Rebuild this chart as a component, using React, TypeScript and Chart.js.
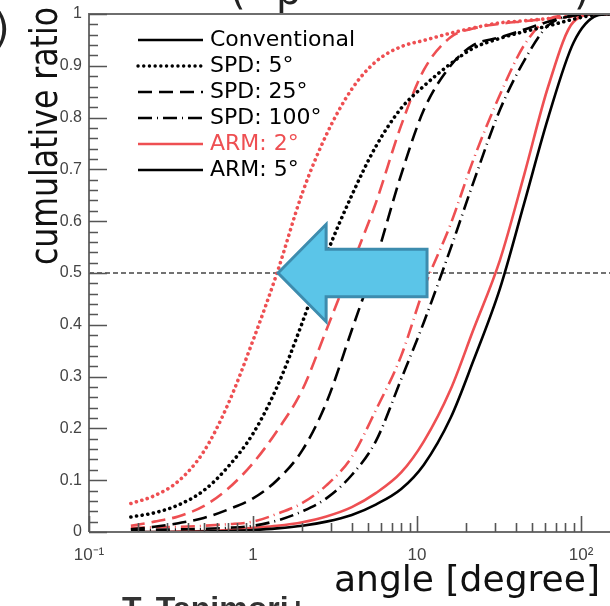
import React, { useEffect, useRef } from "react";
import { Chart, registerables } from "chart.js";

Chart.register(...registerables);

// ---------- data ----------
const ANGLES = [0.18, 0.25, 0.35, 0.5, 0.7, 1, 1.4, 2, 2.8, 4, 5.6, 8, 11, 16, 22, 32, 45, 63, 90, 125, 150];

const CONV_ARM5 = [0, 0, 0, 0.001, 0.002, 0.004, 0.007, 0.012, 0.02, 0.033, 0.053, 0.083, 0.13, 0.22, 0.33, 0.47, 0.635, 0.8, 0.945, 0.997, 1.0];
const CONV_ARM2 = [0, 0, 0.001, 0.002, 0.004, 0.008, 0.012, 0.019, 0.03, 0.048, 0.075, 0.115, 0.175, 0.275, 0.39, 0.525, 0.69, 0.86, 0.985, 1.0, 1.0];
const SPD5_ARM5 = [0.029, 0.037, 0.052, 0.08, 0.125, 0.19, 0.28, 0.405, 0.535, 0.65, 0.744, 0.818, 0.861, 0.904, 0.934, 0.953, 0.966, 0.977, 0.99, 0.999, 1.0];
const SPD5_ARM2 = [0.055, 0.07, 0.098, 0.155, 0.245, 0.37, 0.5, 0.655, 0.767, 0.855, 0.908, 0.937, 0.949, 0.963, 0.973, 0.983, 0.987, 0.991, 0.996, 1.0, 1.0];
const SPD25_ARM5 = [0.005, 0.01, 0.017, 0.027, 0.043, 0.065, 0.1, 0.158, 0.25, 0.39, 0.525, 0.69, 0.815, 0.9, 0.94, 0.955, 0.97, 0.985, 0.997, 1.0, 1.0];
const SPD25_ARM2 = [0.012, 0.02, 0.03, 0.05, 0.083, 0.133, 0.195, 0.275, 0.39, 0.515, 0.635, 0.785, 0.892, 0.955, 0.972, 0.981, 0.986, 0.991, 0.996, 1.0, 1.0];
const SPD100_ARM5 = [0.003, 0.004, 0.005, 0.006, 0.008, 0.012, 0.022, 0.04, 0.065, 0.11, 0.175, 0.295, 0.405, 0.547, 0.674, 0.815, 0.91, 0.978, 0.997, 1.0, 1.0];
const SPD100_ARM2 = [0.008, 0.009, 0.01, 0.012, 0.015, 0.02, 0.035, 0.056, 0.09, 0.145, 0.235, 0.34, 0.47, 0.594, 0.718, 0.844, 0.94, 0.99, 0.998, 1.0, 1.0];

const X_MIN = 0.1;
const X_MAX = 150;
const X_TICK_VALUES = [0.1, 1, 10, 100];
const X_TICK_LABELS = ["10\u207B\u00B9", "1", "10", "10\u00B2"];
const MEDIAN_LEVEL = 0.5;

const LEGEND_TEXTS = ["Conventional", "SPD: 5°", "SPD: 25°", "SPD: 100°", "ARM: 2°", "ARM: 5°"];

// arrow annotation in data units
const ARROW_TIP_X = 1.42;
const ARROW_HEAD_X = 2.79;
const ARROW_TAIL_X = 11.5;
const ARROW_Y = 0.5;
const ARROW_SHAFT_HALF = 0.046;
const ARROW_HEAD_HALF = 0.094;

// ---------- styles ----------
const RED = "#ee4f52";
const BLACK = "#000000";
const DOTTED = [0.1, 5.6];
const DASHED = [14, 7];
const DASHDOT = [14, 5, 1, 5];
const SOLID: number[] = [];

const LEGEND_STYLES = [
  { color: BLACK, dash: SOLID, text: BLACK },
  { color: BLACK, dash: DOTTED, text: BLACK },
  { color: BLACK, dash: DASHED, text: BLACK },
  { color: BLACK, dash: DASHDOT, text: BLACK },
  { color: RED, dash: SOLID, text: RED },
  { color: BLACK, dash: SOLID, text: BLACK },
];

const TEXT_FONT = "'DejaVu Sans', sans-serif";
const TICK_FONT = "'Liberation Sans', Arial, sans-serif";

function mkSeries(values: number[], color: string, dash: number[], label: string) {
  const dotted = dash === DOTTED;
  return {
    label,
    data: ANGLES.map((a, i) => ({ x: a, y: values[i] })),
    borderColor: color,
    backgroundColor: color,
    borderWidth: dotted ? 3.6 : 2.6,
    borderDash: dash,
    borderCapStyle: dotted ? "round" : "butt",
    pointRadius: 0,
    cubicInterpolationMode: "monotone",
    fill: false,
  };
}

function fittedText(ctx: CanvasRenderingContext2D, text: string, size: number, width: number) {
  ctx.font = `${size}px ${TEXT_FONT}`;
  const w = ctx.measureText(text).width;
  ctx.scale(width / w, 1);
  ctx.fillText(text, 0, 0);
}

const decorPlugin = {
  id: "decor",
  afterDatasetsDraw(chart: any) {
    const { ctx, scales } = chart;
    const x = scales.x;
    const y = scales.y;
    const px = (v: number) => x.getPixelForValue(v);
    const py = (v: number) => y.getPixelForValue(v);
    ctx.save();
    ctx.beginPath();
    ctx.moveTo(px(ARROW_TIP_X), py(ARROW_Y));
    ctx.lineTo(px(ARROW_HEAD_X), py(ARROW_Y + ARROW_HEAD_HALF));
    ctx.lineTo(px(ARROW_HEAD_X), py(ARROW_Y + ARROW_SHAFT_HALF));
    ctx.lineTo(px(ARROW_TAIL_X), py(ARROW_Y + ARROW_SHAFT_HALF));
    ctx.lineTo(px(ARROW_TAIL_X), py(ARROW_Y - ARROW_SHAFT_HALF));
    ctx.lineTo(px(ARROW_HEAD_X), py(ARROW_Y - ARROW_SHAFT_HALF));
    ctx.lineTo(px(ARROW_HEAD_X), py(ARROW_Y - ARROW_HEAD_HALF));
    ctx.closePath();
    ctx.fillStyle = "#5bc5e8";
    ctx.fill();
    ctx.lineWidth = 3;
    ctx.lineJoin = "miter";
    ctx.strokeStyle = "#3d8cae";
    ctx.stroke();
    ctx.restore();
  },
  afterDraw(chart: any) {
    const { ctx, chartArea, scales } = chart;
    const x = scales.x;
    const y = scales.y;
    const { left, right, top, bottom } = chartArea;
    ctx.save();
    // frame
    ctx.strokeStyle = "#6e6e6e";
    ctx.lineWidth = 2;
    ctx.beginPath();
    ctx.moveTo(left, bottom);
    ctx.lineTo(left, top);
    ctx.lineTo(right, top);
    ctx.moveTo(left, bottom);
    ctx.lineTo(right, bottom);
    ctx.stroke();
    // y ticks (inward)
    ctx.lineWidth = 1.6;
    ctx.strokeStyle = "#555";
    ctx.beginPath();
    for (let i = 0; i <= 50; i++) {
      const v = i / 50;
      const len = i % 5 === 0 ? 18 : 9;
      const yy = Math.round(y.getPixelForValue(v)) + 0.5;
      ctx.moveTo(left, yy);
      ctx.lineTo(left + len, yy);
    }
    // x ticks (inward)
    for (let d = 0.1; d < X_MAX; d *= 10) {
      for (let k = 1; k <= 9; k++) {
        const v = k * d;
        if (v < X_MIN * 0.999 || v > X_MAX) continue;
        const xx = Math.round(x.getPixelForValue(v)) + 0.5;
        const len = k === 1 ? 16 : 9;
        ctx.moveTo(xx, bottom);
        ctx.lineTo(xx, bottom - len);
      }
    }
    ctx.stroke();

    // legend
    ctx.font = `22px ${TEXT_FONT}`;
    ctx.textBaseline = "middle";
    ctx.textAlign = "left";
    LEGEND_TEXTS.forEach((t, i) => {
      const st = LEGEND_STYLES[i];
      const ry = 40 + i * 26;
      ctx.beginPath();
      ctx.setLineDash(st.dash);
      ctx.lineCap = st.dash === DOTTED ? "round" : "butt";
      ctx.lineWidth = st.dash === DOTTED ? 3.4 : 2.6;
      ctx.strokeStyle = st.color;
      ctx.moveTo(138, ry);
      ctx.lineTo(203, ry);
      ctx.stroke();
      ctx.setLineDash([]);
      ctx.fillStyle = st.text;
      ctx.fillText(t, 210, ry);
    });

    // axis titles
    ctx.fillStyle = "#111";
    ctx.textBaseline = "alphabetic";
    ctx.textAlign = "right";
    ctx.save();
    ctx.translate(600, 591);
    fittedText(ctx, "angle [degree]", 36, 266);
    ctx.restore();

    ctx.save();
    ctx.translate(57, 7);
    ctx.rotate(-Math.PI / 2);
    ctx.textAlign = "right";
    fittedText(ctx, "cumulative ratio", 37, 258);
    ctx.restore();

    // slide fragments (cut off)
    ctx.fillStyle = "#222";
    ctx.font = `40px ${TEXT_FONT}`;
    ctx.textAlign = "left";
    ctx.fillText("(", 230, 4);
    ctx.fillText("p", 276, 4);
    ctx.fillText(")", 574, 4);
    ctx.fillText(")", -6, 42);
    ctx.fillStyle = "#333";
    ctx.font = `bold 32px ${TICK_FONT}`;
    ctx.fillText("T. Tanimori+", 122, 619);
    ctx.restore();
  },
};

export default function App() {
  const ref = useRef<HTMLCanvasElement | null>(null);
  useEffect(() => {
    document.body.style.margin = "0";
    const canvas = ref.current;
    if (!canvas) return;
    const datasets: any[] = [
      mkSeries(CONV_ARM5, BLACK, SOLID, "Conventional, ARM 5°"),
      mkSeries(SPD5_ARM5, BLACK, DOTTED, "SPD 5°, ARM 5°"),
      mkSeries(SPD25_ARM5, BLACK, DASHED, "SPD 25°, ARM 5°"),
      mkSeries(SPD100_ARM5, BLACK, DASHDOT, "SPD 100°, ARM 5°"),
      mkSeries(CONV_ARM2, RED, SOLID, "Conventional, ARM 2°"),
      mkSeries(SPD5_ARM2, RED, DOTTED, "SPD 5°, ARM 2°"),
      mkSeries(SPD25_ARM2, RED, DASHED, "SPD 25°, ARM 2°"),
      mkSeries(SPD100_ARM2, RED, DASHDOT, "SPD 100°, ARM 2°"),
      {
        label: "median",
        data: [
          { x: X_MIN, y: MEDIAN_LEVEL },
          { x: X_MAX, y: MEDIAN_LEVEL },
        ],
        borderColor: "#444",
        borderWidth: 1.4,
        borderDash: [5, 3],
        pointRadius: 0,
        fill: false,
      },
    ];
    const chart = new Chart(canvas, {
      type: "line",
      data: { datasets },
      options: {
        animation: false,
        responsive: false,
        devicePixelRatio: 1,
        layout: { padding: { top: 14, right: 0, left: 0, bottom: 0 } },
        plugins: { legend: { display: false }, tooltip: { enabled: false } },
        scales: {
          x: {
            type: "logarithmic",
            min: X_MIN,
            max: X_MAX,
            grid: { display: false, drawTicks: false },
            border: { display: false },
            afterBuildTicks: (s: any) => {
              s.ticks = X_TICK_VALUES.map((v) => ({ value: v, major: true }));
            },
            afterFit: (s: any) => {
              s.height = 74;
              s.paddingLeft = 0;
              s.paddingRight = 0;
            },
            ticks: {
              autoSkip: false,
              maxRotation: 0,
              padding: 13,
              color: "#444",
              font: { family: TICK_FONT, size: 17 },
              callback: (v: any) => {
                const i = X_TICK_VALUES.findIndex((t) => Math.abs(t - Number(v)) < 1e-9 * Math.max(1, t));
                return i >= 0 ? X_TICK_LABELS[i] : "";
              },
            },
          },
          y: {
            min: 0,
            max: 1,
            grid: { display: false, drawTicks: false },
            border: { display: false },
            afterFit: (s: any) => {
              s.width = 89;
              s.paddingTop = 0;
              s.paddingBottom = 0;
            },
            ticks: {
              stepSize: 0.1,
              padding: 7,
              color: "#444",
              font: { family: TICK_FONT, size: 16 },
              callback: (v: any) => {
                const n = Number(v);
                if (Math.abs(n) < 1e-9) return "0";
                if (Math.abs(n - 1) < 1e-9) return "1";
                return n.toFixed(1);
              },
            },
          },
        },
      },
      plugins: [decorPlugin],
    } as any);
    return () => chart.destroy();
  }, []);
  return (
    <div style={{ width: 610, height: 606, position: "relative", background: "#fff" }}>
      <canvas ref={ref} width={610} height={606} style={{ display: "block" }} />
    </div>
  );
}
